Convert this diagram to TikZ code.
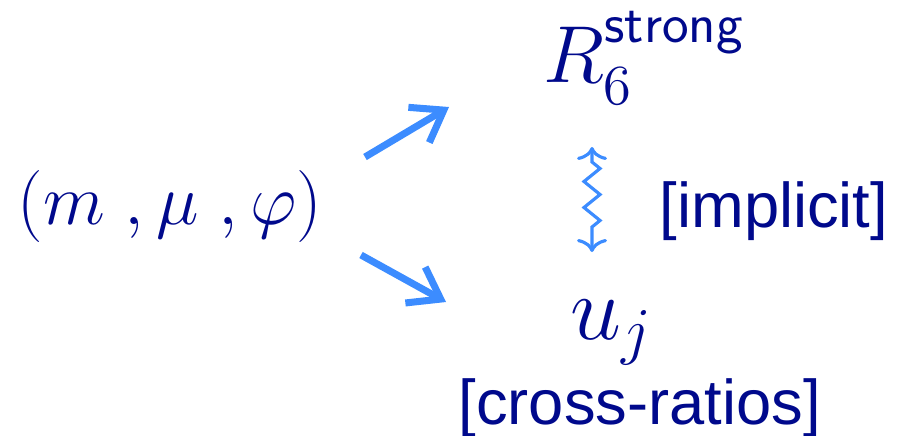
\RequirePackage{fix-cm}
\documentclass[tikz,border=0pt]{standalone}
\usepackage{amsmath}
\usepackage{fontspec}
\newfontfamily\labelfont{Liberation Sans}
\usetikzlibrary{arrows.meta,decorations.pathmorphing}
\definecolor{DiagNavy}{HTML}{00098C}
\definecolor{DiagSky}{HTML}{3C8CFF}

\begin{document}
\begin{tikzpicture}[
  symbol/.style={text=DiagNavy, inner sep=0pt,
                 font=\fontsize{23}{26}\selectfont},
  tag/.style={text=DiagNavy, inner sep=0pt,
              font=\labelfont\fontsize{18}{22}\selectfont},
  link/.style={-{Straight Barb[length=2.9mm, width=4.1mm]},
               line width=2pt, draw=DiagSky},
  squiggle/.style={{To[length=1.3mm, width=3mm]}-{To[length=1.3mm, width=3mm]},
                   line width=0.9pt, draw=DiagSky, decorate,
                   decoration={zigzag, segment length=2.6mm, amplitude=0.8mm,
                               pre length=1.5mm, post length=1.5mm}}
]
\useasboundingbox (0,0) rectangle (9.21,4.35);
\node[symbol, font=\fontsize{20.5}{24}\selectfont] (params) at (1.70,2.29)
  {$(m\;,\mu\;,\varphi)$};
\node[symbol, anchor=base west] (rstrong) at (5.43,3.53)
  {$R_6^{\textsf{strong}}$};
\node[symbol, font=\fontsize{26}{30}\selectfont, anchor=base west] (uj)
  at (5.70,0.96) {$u_j$};
\node[tag, anchor=base west] (impl) at (6.59,2.08) {[implicit]};
\node[tag, anchor=base west] (cross) at (4.58,0.11) {[cross-ratios]};
\draw[link] ([shift={(1.95,0.49)}]params.center)
  -- ([shift={(-0.94,-0.25)}]rstrong.base west);
\draw[link] ([shift={(1.91,-0.49)}]params.center)
  -- ([shift={(-1.24,0.37)}]uj.base west);
\draw[squiggle] ([shift={(0.49,-0.65)}]rstrong.base west)
  -- ([shift={(0.22,0.87)}]uj.base west);
\end{tikzpicture}
\end{document}
